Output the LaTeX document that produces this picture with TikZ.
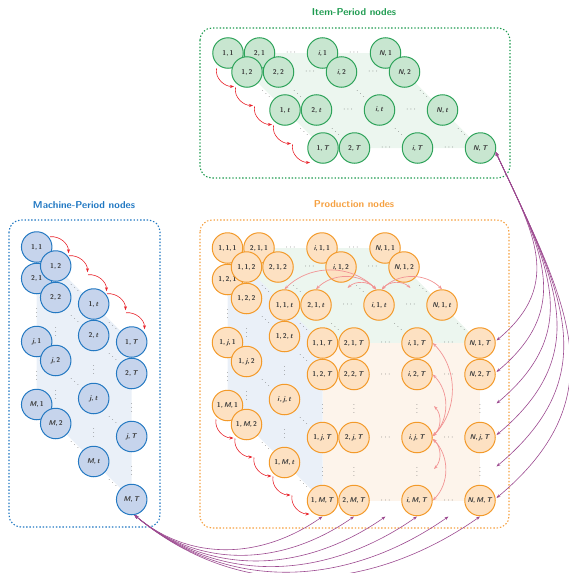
\documentclass[tikz,border=0pt]{standalone}
\usepackage{fontspec}
\usetikzlibrary{arrows.meta}
\definecolor{gfill}{HTML}{C8E6D0}
\definecolor{gdraw}{HTML}{2EA35A}
\definecolor{bfill}{HTML}{C6D4EC}
\definecolor{bdraw}{HTML}{2479C2}
\definecolor{ofill}{HTML}{FDE1C2}
\definecolor{odraw}{HTML}{F39A2A}
\definecolor{gplane}{HTML}{ECF6EF}
\definecolor{bplane}{HTML}{EAF0F8}
\definecolor{oplane}{HTML}{FDF4EB}
\definecolor{gbox}{HTML}{1E9B50}
\definecolor{bbox}{HTML}{1F77C2}
\definecolor{obox}{HTML}{F5A040}
\definecolor{redc}{HTML}{E8222A}
\definecolor{pinkc}{HTML}{F29494}
\definecolor{purpc}{HTML}{9C4A90}
\definecolor{labelc}{HTML}{3C3C3C}
\tikzset{
  basenode/.style={circle, minimum size=30.5pt, inner sep=0pt, line width=1pt, text=labelc,
    font=\fontsize{7}{8}\selectfont\sffamily\bfseries},
  gnode/.style={basenode, draw=gdraw, fill=gfill},
  bnode/.style={basenode, draw=bdraw, fill=bfill},
  pnode/.style={basenode, draw=odraw, fill=ofill},
  dotl/.style={inner sep=0pt, text=black!70, font=\fontsize{8}{8}\selectfont},
  dbox/.style={rounded corners=12pt, line width=1.1pt, dash pattern=on 1.4pt off 1.9pt},
  ttl/.style={font=\fontsize{10}{12}\selectfont\sffamily\bfseries},
  redarr/.style={draw=redc, line width=0.6pt, -{Stealth[length=4pt,width=3pt]}},
  pinkarr/.style={draw=pinkc, line width=0.7pt, {Stealth[length=4pt,width=3pt]}-{Stealth[length=4pt,width=3pt]}},
  purarr/.style={draw=purpc, line width=0.6pt, {Stealth[length=4pt,width=3pt]}-{Stealth[length=4pt,width=3pt]}},
}
\begin{document}
\begin{tikzpicture}[x=1pt,y=1pt]
\useasboundingbox (0,0) rectangle (568,-573);

% ---------- planes ----------
\fill[gplane] (228,-53) -- (385.5,-53) -- (480.5,-148) -- (323,-148) -- cycle;
\fill[bplane] (36.7,-247) -- (36.7,-404.5) -- (131.7,-499.5) -- (131.7,-342) -- cycle;
\fill[gplane] (227.5,-248) -- (385,-248) -- (480,-343) -- (322.5,-343) -- cycle;
\fill[bplane] (227.5,-248) -- (227.5,-405.5) -- (322.5,-500.5) -- (322.5,-343) -- cycle;
\fill[oplane] (322.5,-343) rectangle (480,-500.5);

% ---------- boxes and titles ----------
\draw[dbox, draw=gbox] (200,-28) rectangle (510,-178);
\draw[dbox, draw=bbox] (9,-220) rectangle (160,-527);
\draw[dbox, draw=obox] (200,-220) rectangle (509,-528);
\node[ttl, text=gbox] (tg) at (354,-12.5) {Item-Period nodes};
\node[ttl, text=bbox] (tb) at (84,-205) {Machine-Period nodes};
\node[ttl, text=obox] (tp) at (354,-204) {Production nodes};

% ---------- dots ----------
\foreach \tp in {0,1,3,5} \foreach \ip in {2,4}
  \node[dotl] at ({228+31.5*\ip+19*\tp},{-53-19*\tp}) {$\cdots$};
\foreach \ip in {0,1,3,5} \foreach \tp in {2,4}
  \node[dotl] at ({228+31.5*\ip+19*\tp},{-53-19*\tp}) {$\ddots$};
\foreach \tp in {0,1,3,5} \foreach \jp in {2,4}
  \node[dotl] at ({36.7+19*\tp},{-247-31.5*\jp-19*\tp}) {$\vdots$};
\foreach \jp in {0,1,3,5} \foreach \tp in {2,4}
  \node[dotl] at ({36.7+19*\tp},{-247-31.5*\jp-19*\tp}) {$\ddots$};
% production
\foreach \tp in {0,1,3,5} \foreach \ip in {2,4}
  \node[dotl] at ({227.5+31.5*\ip+19*\tp},{-248-19*\tp}) {$\cdots$};
\foreach \jp in {1,3,5} \foreach \ip in {2,4}
  \node[dotl] at ({227.5+31.5*\ip+95},{-248-31.5*\jp-95}) {$\cdots$};
\foreach \tp in {0,1,3,5} \foreach \jp in {2,4}
  \node[dotl] at ({227.5+19*\tp},{-248-31.5*\jp-19*\tp}) {$\vdots$};
\foreach \ip in {1,3,5} \foreach \jp in {2,4}
  \node[dotl] at ({227.5+31.5*\ip+95},{-248-31.5*\jp-95}) {$\vdots$};
\foreach \ip in {0,1,3,5} \foreach \tp in {2,4}
  \node[dotl] at ({227.5+31.5*\ip+19*\tp},{-248-19*\tp}) {$\ddots$};
\foreach \jp in {1,3,5} \foreach \tp in {2,4}
  \node[dotl] at ({227.5+19*\tp},{-248-31.5*\jp-19*\tp}) {$\ddots$};

% ---------- item-period nodes ----------
\foreach \tp/\tl in {0/1,1/2,3/\textit{t},5/\textit{T}} {
  \foreach \ip/\il in {0/1,1/2,3/\textit{i},5/\textit{N}} {
    \node[gnode] (G-\ip-\tp) at ({228+31.5*\ip+19*\tp},{-53-19*\tp}) {\il,\,\tl};
  }
}
% ---------- machine-period nodes ----------
\foreach \tp/\tl in {0/1,1/2,3/\textit{t},5/\textit{T}} {
  \foreach \jp/\jl in {0/1,1/2,3/\textit{j},5/\textit{M}} {
    \node[bnode] (B-\jp-\tp) at ({36.7+19*\tp},{-247-31.5*\jp-19*\tp}) {\jl,\,\tl};
  }
}
% ---------- production nodes ----------
\foreach \tp/\tl in {0/1,1/2,3/\textit{t},5/\textit{T}} {
  \foreach \ip/\il in {0/1,1/2,3/\textit{i},5/\textit{N}} {
    \node[pnode] (P-\ip-0-\tp) at ({227.5+31.5*\ip+19*\tp},{-248-19*\tp}) {\il,\,1,\,\tl};
  }
  \foreach \jp/\jl in {1/2,3/\textit{j},5/\textit{M}} {
    \node[pnode] (P-0-\jp-\tp) at ({227.5+19*\tp},{-248-31.5*\jp-19*\tp})
      {\ifnum\jp\tp=33 \textit{i}\else 1\fi,\,\jl,\,\tl};
  }
}
\foreach \ip/\il in {1/2,3/\textit{i},5/\textit{N}} {
  \foreach \jp/\jl in {1/2,3/\textit{j},5/\textit{M}} {
    \node[pnode] (P-\ip-\jp-5) at ({227.5+31.5*\ip+95},{-248-31.5*\jp-95}) {\il,\,\jl,\,\textit{T}};
  }
}

% ---------- red chains ----------
\foreach \k in {0,...,5} {
  \coordinate (gc-\k) at ({228+19*\k},{-53-19*\k});
  \coordinate (bc-\k) at ({36.7+19*\k},{-247-19*\k});
  \coordinate (pc-\k) at ({227.5+19*\k},{-405.5-19*\k});
}
\foreach \k [evaluate=\k as \n using int(\k+1)] in {0,...,4} {
  \draw[redarr] ([shift={(-11.5,-15.5)}]gc-\k) to[out=-100,in=180] ([shift={(-13,-14.5)}]gc-\n);
  \draw[redarr] ([shift={(13.3,10.3)}]bc-\k) to[out=5,in=90] ([shift={(12.8,12.8)}]bc-\n);
  \draw[redarr] ([shift={(-11.5,-14)}]pc-\k) to[out=-100,in=180] ([shift={(-13,-13.5)}]pc-\n);
}

% ---------- pink arcs ----------
\coordinate (rd2) at (347.5,-288);
\coordinate (rd4) at (410.5,-288);
\draw[pinkarr] (P-3-0-3.100) to[bend right=45] (P-0-0-3.north);
\draw[pinkarr] (P-3-0-3.100) to[bend right=45] (P-1-0-3.north);
\draw[pinkarr] (P-3-0-3.100) to[bend right=45] (rd2);
\draw[pinkarr] (P-3-0-3.80) to[bend left=45] (rd4);
\draw[pinkarr] (P-3-0-3.80) to[bend left=45] (P-5-0-3.north);
\coordinate (cd2) at (434,-406);
\coordinate (cd4) at (434,-469);
\draw[pinkarr] (P-3-3-5.5) to[bend right=45] (P-3-0-5.east);
\draw[pinkarr] (P-3-3-5.5) to[bend right=45] (P-3-1-5.east);
\draw[pinkarr] (P-3-3-5.5) to[bend right=45] (cd2);
\draw[pinkarr] (P-3-3-5.-5) to[bend left=45] (cd4);
\draw[pinkarr] (P-3-3-5.-5) to[bend left=45] (P-3-5-5.east);

% ---------- purple fans ----------
\foreach \ip in {0,...,5}
  \coordinate (pb-\ip) at ({322.5+31.5*\ip},-516.5);
\foreach \jp in {0,...,5}
  \coordinate (pr-\jp) at (496.5,{-340.5-31.5*\jp});
\foreach \ip in {0,...,5}
  \draw[purarr] (B-5-5.-80) to[out=-40,in=215] (pb-\ip);
\foreach \jp in {0,...,5}
  \draw[purarr] (G-5-5.-15) to[out=-65,in=40,looseness=1.2] (pr-\jp);
\end{tikzpicture}
\end{document}
